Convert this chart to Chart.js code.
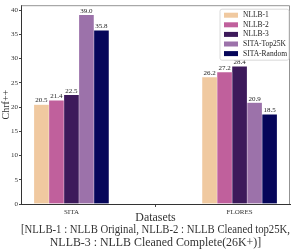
<!DOCTYPE html>
<html>
<head>
<meta charset="utf-8">
<script src="https://cdn.jsdelivr.net/npm/chart.js@4.4.1/dist/chart.umd.min.js"></script>
<style>
  html, body { margin: 0; padding: 0; background: #fff; }
  #wrap { width: 291px; height: 249px; }
</style>
</head>
<body>
<div id="wrap"><canvas id="chart"></canvas></div>
<script>
// data
const categories = ["SITA", "FLORES"];
const seriesNames = ["NLLB-1", "NLLB-2", "NLLB-3", "SITA-Top25K", "SITA-Random"];
const nllb1 = [20.5, 26.2];
const nllb2 = [21.4, 27.2];
const nllb3 = [22.5, 28.4];
const sitaTop25k = [39.0, 20.9];
const sitaRandom = [35.8, 18.5];
const yTicks = [0, 5, 10, 15, 20, 25, 30, 35, 40];
const xTitle = [
  "Datasets",
  "[NLLB-1 : NLLB Original, NLLB-2 : NLLB Cleaned top25K,",
  "NLLB-3 : NLLB Cleaned Complete(26K+)]"
];

const colors = ["#f0c9a0", "#c0609c", "#3d1a5b", "#9c72aa", "#06065a"];
const serif = "'Liberation Serif', 'DejaVu Serif', serif";

const allSeries = [nllb1, nllb2, nllb3, sitaTop25k, sitaRandom];

const datasets = allSeries.map((vals, i) => ({
  label: seriesNames[i],
  data: vals.map((v, j) => ({ x: j, y: v })),
  backgroundColor: colors[i],
  borderColor: "rgba(255,255,255,0.6)",
  borderWidth: 0.5,
  barThickness: 15,
}));

// value labels on top of bars
const valueLabels = {
  id: "valueLabels",
  afterDatasetsDraw(chart) {
    const ctx = chart.ctx;
    ctx.save();
    ctx.font = "7px " + serif;
    ctx.fillStyle = "#222";
    ctx.textAlign = "center";
    ctx.textBaseline = "bottom";
    chart.data.datasets.forEach((ds, i) => {
      chart.getDatasetMeta(i).data.forEach((bar, j) => {
        ctx.fillText(ds.data[j].y.toFixed(1), bar.x, bar.y - 0.5);
      });
    });
    ctx.restore();
  },
};

// frame + legend box inside plot
const frameAndLegend = {
  id: "frameAndLegend",
  afterDraw(chart) {
    const ctx = chart.ctx;
    const a = chart.chartArea;
    ctx.save();
    ctx.strokeStyle = "#777";
    ctx.lineWidth = 0.8;
    ctx.beginPath();
    ctx.moveTo(a.left, a.top + 0.5);
    ctx.lineTo(a.right - 0.5, a.top + 0.5);
    ctx.lineTo(a.right - 0.5, a.bottom);
    ctx.stroke();

    // legend
    const bx = a.right - 70, by = a.top + 4, bw = 69, bh = 51;
    ctx.fillStyle = "rgba(255,255,255,0.85)";
    ctx.strokeStyle = "#d0d0d0";
    ctx.lineWidth = 0.8;
    ctx.beginPath();
    ctx.roundRect(bx, by, bw, bh, 2);
    ctx.fill();
    ctx.stroke();
    ctx.font = "7.5px " + serif;
    ctx.textAlign = "left";
    ctx.textBaseline = "middle";
    chart.data.datasets.forEach((ds, i) => {
      const cy = by + 6 + i * 9.6;
      ctx.fillStyle = ds.backgroundColor;
      ctx.fillRect(bx + 4, cy - 2.5, 14, 5);
      ctx.fillStyle = "#222";
      ctx.fillText(ds.label, bx + 23, cy);
    });
    ctx.restore();
  },
};

new Chart(document.getElementById("chart"), {
  type: "bar",
  data: { datasets },
  plugins: [valueLabels, frameAndLegend],
  options: {
    responsive: true,
    maintainAspectRatio: false,
    animation: false,
    layout: { padding: { left: 0, right: 1, top: 1, bottom: 0 } },
    plugins: {
      legend: { display: false },
      tooltip: { enabled: false },
    },
    scales: {
      x: {
        type: "linear",
        offset: false,
        min: -0.3,
        max: 1.3,
        afterBuildTicks: (scale) => {
          scale.ticks = categories.map((c, i) => ({ value: i }));
        },
        afterFit: (scale) => { scale.height = 45; },
        ticks: {
          callback: (v) => categories[v],
          font: { family: serif, size: 7 },
          color: "#333",
          padding: 1,
          maxRotation: 0,
        },
        grid: { drawOnChartArea: false, tickLength: 3, color: "#444" },
        border: { color: "#333", width: 1 },
        title: {
          display: true,
          text: xTitle,
          font: { family: serif, size: 11.9, lineHeight: 1.05 },
          color: "#333",
          padding: { top: 0, bottom: 0 },
        },
      },
      y: {
        min: 0,
        max: 41,
        afterBuildTicks: (scale) => {
          scale.ticks = yTicks.map((v) => ({ value: v }));
        },
        afterFit: (scale) => { scale.width = 21; },
        ticks: {
          font: { family: serif, size: 7 },
          color: "#333",
          padding: 1,
        },
        grid: { drawOnChartArea: false, tickLength: 2, color: "#444" },
        border: { color: "#333", width: 1 },
        title: {
          display: true,
          text: "Chrf++",
          font: { family: serif, size: 10 },
          color: "#333",
          padding: { top: 0, bottom: 0 },
        },
      },
    },
  },
});
</script>
</body>
</html>
